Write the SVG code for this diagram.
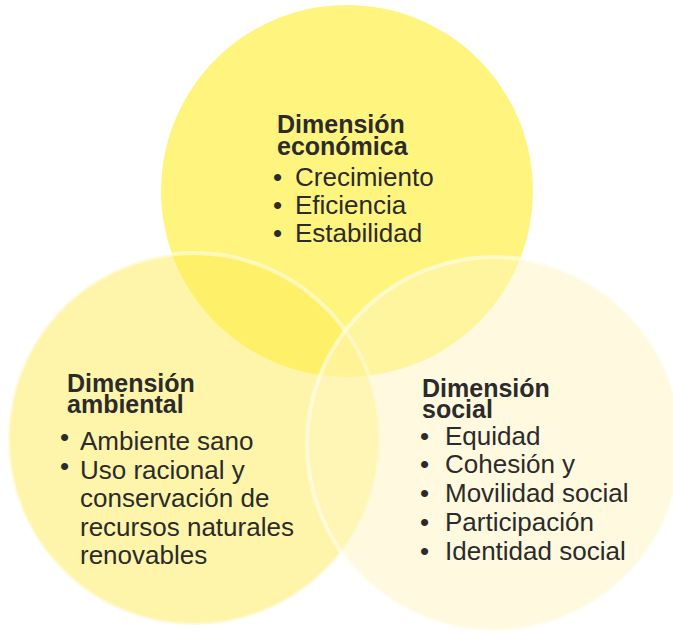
<svg xmlns="http://www.w3.org/2000/svg" width="673" height="631" viewBox="0 0 673 631">
<style>
text{font-family:"Liberation Sans",Arial,sans-serif;fill:#2b2b2b}
.h{font-weight:bold;font-size:25px}
.i{font-size:26px}
.b{font-size:26px}
</style>
<rect width="673" height="631" fill="#ffffff"/>
<g id="economica">
<circle cx="347" cy="191" r="186" fill="#FFF47E"/>
</g>
<g id="ambiental">
<circle cx="194" cy="439" r="186" fill="#FFEC55" fill-opacity="0.5" stroke="#ffffff" stroke-opacity="0.5" stroke-width="4"/>
</g>
<g id="social">
<circle cx="494" cy="444" r="187" fill="#FFF5C0" fill-opacity="0.5" stroke="#ffffff" stroke-opacity="0.5" stroke-width="4"/>
</g>
<g id="connectors"></g>
<g id="texto-economica">
<text class="h" x="277" y="133">Dimensión</text>
<text class="h" x="277" y="155">económica</text>
<text class="b" x="273" y="186">•</text>
<text class="i" x="295" y="186">Crecimiento</text>
<text class="b" x="273" y="214">•</text>
<text class="i" x="295" y="214">Eficiencia</text>
<text class="b" x="273" y="242">•</text>
<text class="i" x="295" y="242">Estabilidad</text>
</g>
<g id="texto-ambiental">
<text class="h" x="67" y="392">Dimensión</text>
<text class="h" x="67" y="413">ambiental</text>
<text class="b" x="60" y="446">•</text>
<text class="i" x="80" y="450">Ambiente sano</text>
<text class="b" x="60" y="475">•</text>
<text class="i" x="80" y="479">Uso racional y</text>
<text class="i" x="80" y="507">conservación de</text>
<text class="i" x="80" y="536">recursos naturales</text>
<text class="i" x="80" y="564">renovables</text>
</g>
<g id="texto-social">
<text class="h" x="422" y="397">Dimensión</text>
<text class="h" x="422" y="418">social</text>
<text class="b" x="420" y="445">•</text>
<text class="i" x="445" y="445">Equidad</text>
<text class="b" x="420" y="473">•</text>
<text class="i" x="445" y="473">Cohesión y</text>
<text class="b" x="420" y="502">•</text>
<text class="i" x="445" y="502">Movilidad social</text>
<text class="b" x="420" y="531">•</text>
<text class="i" x="445" y="531">Participación</text>
<text class="b" x="420" y="560">•</text>
<text class="i" x="445" y="560">Identidad social</text>
</g>
</svg>
